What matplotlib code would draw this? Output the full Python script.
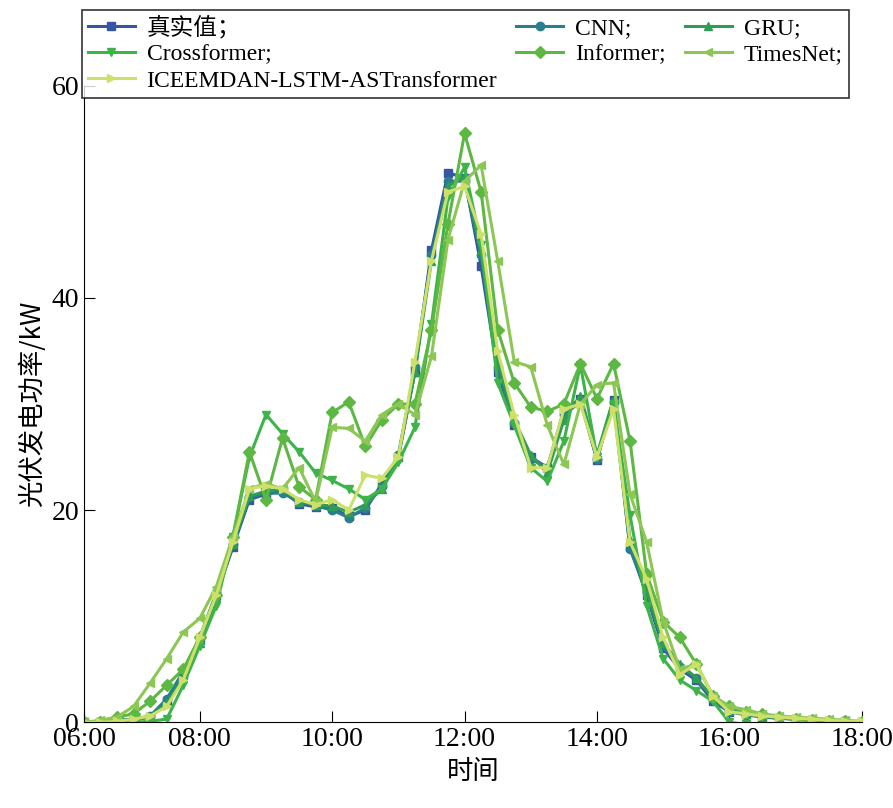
import numpy as np
import matplotlib
matplotlib.use("Agg")
import matplotlib.pyplot as plt

plt.rcParams["font.family"] = ["Liberation Serif", "Noto Sans CJK SC"]

hours = np.arange(6.25, 18.01, 0.25)

true_vals = [0, 0, 0.2, 0.3, 0.5, 2.0, 4.5, 7.8, 12, 16.5, 21, 21.5, 21.8, 20.6, 20.3, 20.2,
             19.4, 20.0, 22.5, 25, 33, 44.5, 51.8, 51.3, 43, 33, 28, 25, 24, 29.4, 30.5, 24.7,
             30.4, 16.5, 12, 7, 5, 4, 2, 1, 0.8, 0.5, 0.4, 0.3, 0.2, 0.1, 0.1, 0]
cnn_vals = [0, 0, 0.2, 0.3, 0.6, 2.2, 4.8, 8.0, 12.2, 16.8, 21.2, 21.6, 21.6, 20.8, 20.4, 20.0,
            19.3, 20.2, 22.3, 25.2, 33.5, 44, 51, 51, 44, 33.5, 28.2, 24.8, 24, 29, 30.2, 24.8,
            30.2, 16.3, 12.3, 7.2, 5.2, 4.2, 2.2, 1.0, 0.7, 0.5, 0.4, 0.3, 0.2, 0.1, 0.1, 0]
gru_vals = [0, 0, 0.1, 0.2, 0.5, 1.8, 4.2, 7.5, 11.8, 16.8, 21.3, 21.8, 22.0, 20.8, 20.5, 20.4,
            19.8, 20.5, 22.0, 25.0, 33.0, 43.5, 50.5, 51.5, 44.5, 34, 28.5, 25.2, 23.5, 28.5, 30.8, 25.2,
            30.5, 17.2, 12.5, 7.5, 5.5, 4.2, 2.3, 1.2, 0.8, 0.6, 0.4, 0.3, 0.2, 0.1, 0.1, 0]
crossformer_vals = [0, 0, 0, 0, 0.1, 0.3, 3.5, 7.2, 11, 17.5, 25, 29, 27.2, 25.5, 23.5, 22.8,
                    22, 21, 22, 24.5, 27.8, 37.5, 49.5, 52.3, 45, 32, 28, 24, 22.7, 26.5, 33.7, 25,
                    30, 19.5, 11, 6, 4, 3, 2, 0, -0.2, -0.3, -0.5, -0.5, -0.6, -0.6, -0.5, -0.3]
informer_vals = [0, 0, 0.5, 0.8, 2, 3.5, 5, 8, 12, 17.5, 25.5, 21, 26.8, 22.2, 21, 29.2,
                 30.2, 26, 28.5, 30, 30, 37, 47, 55.5, 50, 37, 32, 29.7, 29.3, 30, 33.8, 30.5,
                 33.8, 26.5, 14, 9.5, 8, 5.5, 2.5, 1.5, 1, 0.8, 0.5, 0.3, 0.2, 0.1, 0.1, 0]
timesnet_vals = [0, 0.2, 0.5, 1.5, 3.7, 6, 8.5, 9.8, 12.8, 17.5, 22, 22.5, 22, 24, 20.8, 27.8,
                 27.7, 26.5, 29, 30, 29, 34.5, 45.5, 51, 52.5, 43.5, 34, 33.5, 28, 24.3, 30, 31.8,
                 32, 21.5, 17, 9.5, 5, 5.5, 2.5, 1.5, 1.2, 0.8, 0.6, 0.5, 0.4, 0.3, 0.2, 0.1]
iceemdan_vals = [0, 0, 0.1, 0.3, 0.6, 1.5, 4.0, 8.0, 12.0, 17.0, 22.0, 22.3, 22.0, 21.0, 20.5, 21.0,
                 20.0, 23.3, 23.0, 25.0, 34.0, 43.5, 50.0, 50.5, 46.0, 35.0, 29.0, 24.0, 24.0, 29.5, 30.0, 25.0,
                 29.5, 17.0, 13.5, 8.0, 4.5, 5.5, 2.5, 1.0, 0.8, 0.6, 0.5, 0.4, 0.3, 0.2, 0.1, 0.1]

series = [
    ("真实值；", true_vals, "#3656a4", "s"),
    ("CNN;", cnn_vals, "#2a7f8e", "o"),
    ("GRU;", gru_vals, "#2f9c57", "^"),
    ("Crossformer;", crossformer_vals, "#3db34a", "v"),
    ("Informer;", informer_vals, "#5db843", "D"),
    ("TimesNet;", timesnet_vals, "#8cc756", "<"),
    ("ICEEMDAN-LSTM-ASTransformer", iceemdan_vals, "#cde06a", ">"),
]

tick_pos = [6.25, 8, 10, 12, 14, 16, 18]
tick_labels = ["06:00", "08:00", "10:00", "12:00", "14:00", "16:00", "18:00"]

fig = plt.figure(figsize=(8.93, 8.08), dpi=100)
ax = fig.add_axes([0.094, 0.106, 0.871, 0.788])

lines = []
for label, vals, color, marker in series:
    ln, = ax.plot(hours, vals, color=color, marker=marker, markersize=6, linewidth=2.2, label=label)
    lines.append(ln)

ax.set_xlim(6.25, 18)
ax.set_ylim(0, 60)
ax.set_xticks(tick_pos)
ax.set_xticklabels(tick_labels)
ax.set_yticks([0, 20, 40, 60])
ax.spines["top"].set_visible(False)
ax.spines["right"].set_visible(False)
ax.tick_params(axis="both", direction="in", length=8, labelsize=20)
ax.set_xlabel("时间", fontsize=19, family=["Noto Sans CJK SC"])
ax.set_ylabel("光伏发电功率/kW", fontsize=19, family=["Noto Sans CJK SC", "Liberation Serif"])

# row-major legend order for 3 columns
order = [0, 3, 6, 1, 4, 2, 5]
leg = ax.legend([lines[i] for i in order], [series[i][0] for i in order],
                loc="upper center", bbox_to_anchor=(0.49, 1.138), ncol=3, fontsize=17,
                frameon=True, fancybox=False, edgecolor="black", handlelength=2.0,
                columnspacing=0.8, handletextpad=0.5, borderpad=0.25, labelspacing=0.2)
leg.get_frame().set_linewidth(1.2)

fig.savefig("out.png", dpi=100)
